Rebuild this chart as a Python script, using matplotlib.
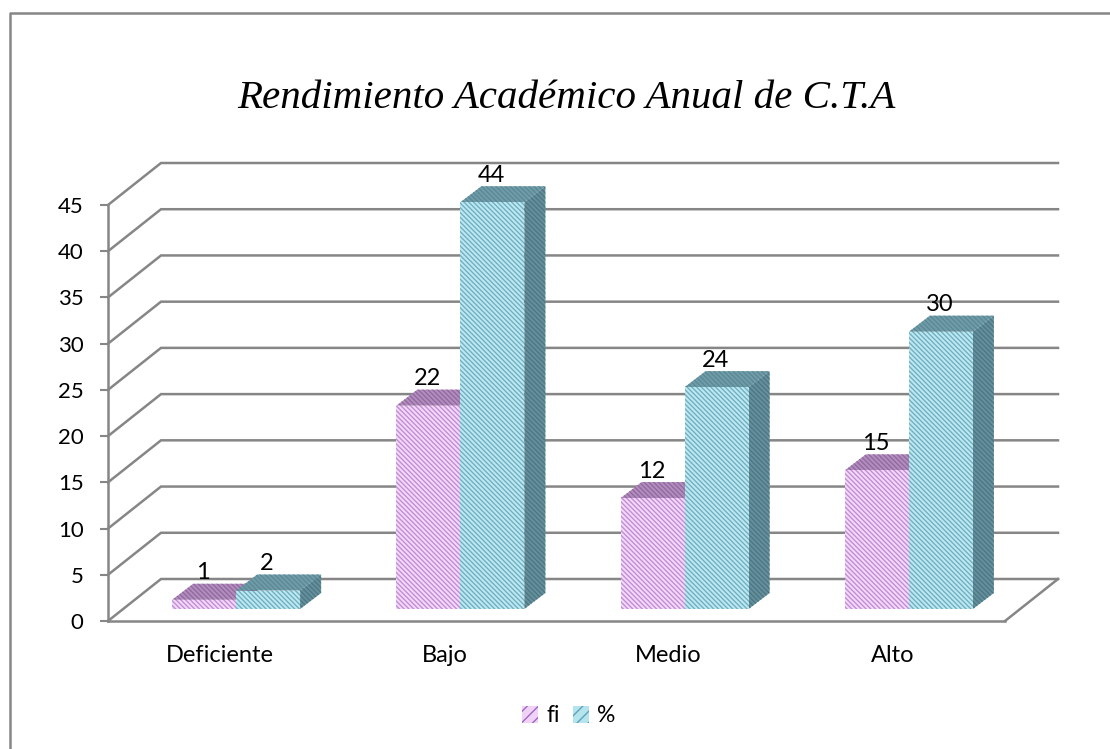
import matplotlib
matplotlib.use("Agg")
import matplotlib.pyplot as plt
from matplotlib.lines import Line2D
from matplotlib.patches import Patch

categorias = ["Deficiente", "Bajo", "Medio", "Alto"]
fi = [1, 22, 12, 15]
porcentaje = [2, 44, 24, 30]
ticks_y = [0, 5, 10, 15, 20, 25, 30, 35, 40, 45]

W, H = 1110, 749
plt.rcParams["font.family"] = ["Lato", "DejaVu Sans"]
plt.rcParams["hatch.linewidth"] = 0.95

GRIS = "#868686"

fig = plt.figure(figsize=(W / 100, H / 100), dpi=100, facecolor="white")
# caja frontal del grafico, en pixeles de la referencia
x0, x1, y0, y1 = 108, 1005, 621, 205
ax = fig.add_axes([x0 / W, 1 - y0 / H, (x1 - x0) / W, (y0 - y1) / H])
ax.set_xlim(-0.5, 3.5)
ax.set_ylim(0, 45)
ax.patch.set_visible(False)

px_x = 4 / (x1 - x0)   # datos por pixel en x
px_y = 45 / (y0 - y1)  # datos por pixel en y

# profundidad de paredes y barras
prof_x, prof_y = 53 * px_x, 42 * px_y
base_x, base_y = 16 * px_x, 12 * px_y
lado_x, lado_y = 21 * px_x, 16 * px_y
ancho = 64 * px_x

# paredes
for v in ticks_y:
    ax.plot([-0.5, -0.5 + prof_x, 3.5 + prof_x], [v, v + prof_y, v + prof_y],
            color=GRIS, lw=1.8, clip_on=False, zorder=1, solid_joinstyle="miter")
ax.plot([3.5, 3.5 + prof_x], [0, prof_y], color=GRIS, lw=1.8, clip_on=False, zorder=1)

for s in ["top", "right"]:
    ax.spines[s].set_visible(False)
for s in ["left", "bottom"]:
    ax.spines[s].set_color(GRIS)
    ax.spines[s].set_linewidth(1.8)
    ax.spines[s].set_zorder(2)

ax.set_yticks(ticks_y)
ax.tick_params(axis="y", length=5.5, width=1.5, color=GRIS, labelsize=16, pad=12)
ax.set_xticks(range(len(categorias)))
ax.set_xticklabels(categorias)
ax.tick_params(axis="x", length=0, labelsize=17, pad=17)


def barras(valores, desp, frente, trama, arriba, trama_arriba, lado, trama_lado, z):
    for i, v in enumerate(valores):
        xa = i + base_x + desp
        xb = xa + ancho
        ax.bar(xa, v, ancho, bottom=base_y, align="edge", color=frente, edgecolor=trama,
               hatch="\\\\\\\\\\\\\\", linewidth=0, clip_on=False, zorder=z + 0.2)
        t = base_y + v
        ax.fill([xa, xb, xb + lado_x, xa + lado_x], [t, t, t + lado_y, t + lado_y],
                facecolor=arriba, edgecolor=trama_arriba, hatch="\\\\\\\\\\\\\\", linewidth=0,
                clip_on=False, zorder=z + 0.1)
        ax.fill([xb, xb + lado_x, xb + lado_x, xb],
                [base_y, base_y + lado_y, t + lado_y, t],
                facecolor=lado, edgecolor=trama_lado, hatch="\\\\\\\\\\\\\\", linewidth=0,
                clip_on=False, zorder=z)
        ax.text(xa + ancho / 2 - 1 * px_x, t + 27 * px_y, str(v), ha="center", va="center",
                fontsize=17, color="black", clip_on=False, zorder=10)


barras(fi, -ancho, "#f3d8f8", "#c08cd4", "#b48cc0", "#8e6a9c", "#8e6a9c", "#70507e", 3)
barras(porcentaje, 0, "#bde8f0", "#6eaec2", "#6f9ca8", "#5a8894", "#63909c", "#4e7682", 4)

fig.text(566 / W, 1 - 98 / H, "Rendimiento Académico Anual de C.T.A", ha="center", va="center",
         fontsize=29.5, family="Liberation Serif", style="italic", color="black")

# borde del area del grafico (solo arriba e izquierda)
fig.add_artist(Line2D([9.5 / W, 9.5 / W, 1], [0, 1 - 13 / H, 1 - 13 / H], color=GRIS, lw=1.8))

handles = [
    Patch(facecolor="#f0d2f6", edgecolor="#9a64c0", hatch="///", linewidth=0),
    Patch(facecolor="#b4e4ee", edgecolor="#5f9fb4", hatch="///", linewidth=0),
]
fig.legend(handles, ["fi", "%"], loc="center", bbox_to_anchor=(569 / W, 1 - 716 / H), ncol=2,
           frameon=False, fontsize=16.5, handlelength=0.7, handleheight=0.7,
           handletextpad=0.35, columnspacing=0.6, borderpad=0)

fig.savefig("out.png", dpi=100)
